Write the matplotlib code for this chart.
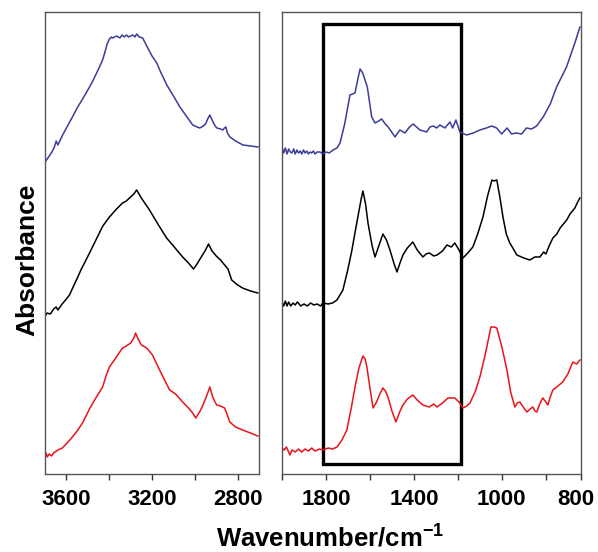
import matplotlib
matplotlib.use("Agg")
import matplotlib.pyplot as plt
import matplotlib.patches as patches
import matplotlib.transforms as mtransforms

plt.rcParams['font.family'] = ['Liberation Sans', 'DejaVu Sans']
plt.rcParams['mathtext.fontset'] = 'custom'
plt.rcParams['mathtext.rm'] = 'Liberation Sans'
plt.rcParams['mathtext.bf'] = 'Liberation Sans:bold'

# high wavenumber region (3700-2700)
wn_hi_blue = [3703, 3690, 3680, 3668, 3656, 3648, 3640, 3620, 3600, 3572, 3550, 3530, 3492, 3470,
              3450, 3431, 3420, 3410, 3399, 3390, 3385, 3375, 3365, 3350, 3340, 3330, 3320,
              3310, 3300, 3290, 3280, 3272, 3260, 3244, 3220, 3200, 3178, 3160, 3131, 3100,
              3070, 3040, 3010, 2990, 2977, 2960, 2950, 2940, 2930, 2915, 2905, 2897,
              2880, 2869, 2862, 2855, 2848, 2836, 2810, 2775, 2740, 2705]
ab_hi_blue = [311, 315, 318, 322, 327, 333, 329, 338, 346, 357, 366, 373, 387, 396,
              405, 414, 422, 430, 435, 437, 436, 437, 438, 436, 439, 437, 439,
              437, 438, 439, 437, 440, 437, 436, 426, 418, 411, 402, 389, 378,
              367, 358, 349, 347, 346, 348, 350, 355, 359, 352, 348, 346,
              345, 344, 346, 347, 341, 337, 333, 329, 328, 327]

wn_hi_black = [3703, 3690, 3675, 3660, 3648, 3640, 3620, 3600, 3586, 3560, 3530, 3492, 3460,
               3430, 3399, 3370, 3338, 3320, 3300, 3285, 3272, 3250, 3212, 3170, 3132, 3100,
               3057, 3030, 3006, 2990, 2970, 2950, 2936, 2920, 2900, 2880, 2861, 2845, 2828,
               2800, 2777, 2740, 2706]
ab_hi_black = [157, 161, 160, 165, 167, 164, 170, 175, 179, 191, 205, 221, 235,
               248, 257, 264, 271, 273, 277, 280, 284, 276, 264, 249, 236, 228,
               217, 211, 205, 210, 217, 224, 230, 223, 218, 214, 209, 205, 194,
               189, 186, 183, 181]

wn_hi_red = [3703, 3695, 3690, 3680, 3670, 3660, 3640, 3619, 3580, 3550, 3525, 3490, 3460, 3431,
             3415, 3399, 3370, 3338, 3320, 3300, 3285, 3277, 3265, 3250, 3225, 3198, 3160,
             3118, 3090, 3057, 3030, 3010, 2996, 2975, 2960, 2945, 2930, 2915, 2898, 2880,
             2861, 2850, 2837, 2810, 2777, 2740, 2706]
ab_hi_red = [16, 21, 17, 20, 18, 21, 24, 26, 35, 43, 51, 66, 77, 87,
             98, 107, 116, 126, 128, 131, 136, 141, 135, 129, 126, 119, 102,
             84, 80, 72, 66, 61, 56, 63, 70, 78, 87, 76, 69, 68,
             66, 60, 52, 47, 44, 41, 38]

# fingerprint region (2000-640)
wn_lo_blue = [2000, 1992, 1985, 1977, 1970, 1962, 1955, 1947, 1940, 1932, 1925, 1917, 1910, 1902,
              1895, 1887, 1880, 1872, 1865, 1857, 1850, 1840, 1827, 1815, 1800, 1785, 1768,
              1750, 1736, 1715, 1691, 1668, 1655, 1645, 1633, 1612, 1592, 1577, 1560, 1547,
              1530, 1517, 1486, 1464, 1441, 1420, 1403, 1373, 1342, 1327, 1312, 1297, 1282,
              1259, 1236, 1224, 1209, 1191, 1161, 1130, 1100, 1070, 1047, 1024, 1001, 976,
              956, 935, 910, 888, 865, 842, 812, 780, 751, 706, 668, 645]
ab_lo_blue = [327, 321, 326, 320, 325, 322, 321, 325, 320, 324, 321, 323, 320, 324,
              321, 323, 320, 322, 321, 323, 320, 322, 322, 320, 322, 321, 324,
              326, 331, 350, 379, 381, 395, 405, 401, 387, 357, 351, 353, 355,
              350, 347, 337, 344, 341, 347, 350, 344, 342, 347, 348, 346, 349,
              346, 352, 346, 354, 342, 339, 341, 344, 346, 348, 346, 340, 346,
              340, 341, 340, 346, 345, 348, 357, 370, 387, 407, 431, 447]

wn_lo_black = [2000, 1992, 1985, 1977, 1970, 1960, 1950, 1940, 1930, 1915, 1900, 1885, 1870,
               1855, 1840, 1825, 1814, 1790, 1770, 1750, 1723, 1700, 1682, 1665, 1655, 1640,
               1632, 1620, 1609, 1590, 1577, 1560, 1541, 1525, 1509, 1490, 1477, 1465, 1450,
               1430, 1405, 1385, 1359, 1345, 1330, 1310, 1295, 1270, 1250, 1230, 1214, 1195,
               1177, 1155, 1132, 1110, 1086, 1065, 1045, 1035, 1023, 1010, 995, 980, 964,
               950, 932, 900, 873, 850, 827, 810, 800, 785, 768, 750, 735, 705, 690, 668,
               655, 645]
ab_lo_black = [172, 168, 173, 168, 172, 168, 171, 169, 172, 168, 170, 168, 171,
               169, 170, 168, 171, 170, 171, 174, 184, 205, 224, 245, 257, 275,
               283, 270, 251, 228, 217, 228, 240, 234, 224, 210, 202, 210, 219,
               226, 232, 224, 217, 220, 221, 218, 219, 223, 229, 227, 231, 224,
               216, 221, 227, 240, 257, 278, 294, 293, 294, 278, 257, 240, 231,
               226, 219, 216, 214, 217, 217, 222, 220, 228, 236, 240, 246, 254, 260, 266,
               272, 276]

wn_lo_red = [2000, 1990, 1980, 1964, 1955, 1940, 1925, 1910, 1895, 1880, 1865, 1850, 1830,
             1814, 1790, 1770, 1750, 1730, 1705, 1685, 1668, 1650, 1632, 1622, 1614, 1600,
             1586, 1570, 1555, 1541, 1530, 1518, 1500, 1482, 1465, 1450, 1430, 1405, 1385,
             1359, 1330, 1310, 1295, 1270, 1245, 1214, 1195, 1177, 1160, 1145, 1120, 1100,
             1075, 1050, 1035, 1023, 1000, 977, 960, 941, 930, 918, 900, 886, 872, 859, 850,
             841, 828, 814, 800, 791, 780, 768, 745, 723, 700, 677, 660, 645]
ab_lo_red = [26, 24, 27, 19, 24, 22, 25, 22, 25, 23, 26, 23, 25,
             24, 26, 25, 27, 33, 44, 66, 87, 106, 118, 115, 107, 86,
             66, 72, 80, 86, 83, 77, 63, 52, 62, 69, 75, 79, 74,
             69, 67, 70, 67, 71, 76, 76, 72, 66, 68, 71, 83, 97,
             120, 147, 147, 146, 127, 104, 82, 67, 71, 72, 66, 62, 65, 67, 63,
             62, 70, 76, 72, 69, 77, 84, 88, 92, 100, 112, 110, 114]

# highlighted band
box_wn = [1814, 1186]

blue = '#3b3c98'
red = '#e8141a'

fig = plt.figure(figsize=(5.98, 5.52), dpi=100)
ax1 = fig.add_axes([0.0753, 0.1413, 0.3579, 0.837])
ax2 = fig.add_axes([0.4716, 0.1413, 0.5, 0.837])

ax1.plot(wn_hi_blue, ab_hi_blue, color=blue, lw=1.1)
ax1.plot(wn_hi_black, ab_hi_black, color='black', lw=1.1)
ax1.plot(wn_hi_red, ab_hi_red, color=red, lw=1.1)
ax2.plot(wn_lo_blue, ab_lo_blue, color=blue, lw=1.1)
ax2.plot(wn_lo_black, ab_lo_black, color='black', lw=1.1)
ax2.plot(wn_lo_red, ab_lo_red, color=red, lw=1.1)

ax1.set_xlim(3700, 2700)
ax2.set_xlim(2000, 640)
for ax in (ax1, ax2):
    ax.set_ylim(0, 462)
    ax.set_yticks([])
    for s in ax.spines.values():
        s.set_color('#555555')
        s.set_linewidth(1.0)
    ax.tick_params(axis='x', direction='out', length=4, width=1, color='#333333',
                   pad=7, labelsize=16)

ax1.set_xticks([3600, 3400, 3200, 3000, 2800])
ax1.set_xticklabels(['3600', '', '3200', '', '2800'])
ax2.set_xticks([2000, 1800, 1600, 1400, 1200, 1000, 800, 640])
ax2.set_xticklabels(['', '1800', '', '1400', '', '1000', '', '800'])
for lab in ax1.get_xticklabels() + ax2.get_xticklabels():
    lab.set_fontweight('bold')
# the edge label sits a little inside the frame
last = ax2.get_xticklabels()[-1]
last.set_transform(last.get_transform() +
                   mtransforms.ScaledTranslation(-4 / 72, 0, fig.dpi_scale_trans))

trans = mtransforms.blended_transform_factory(ax2.transData, ax2.transAxes)
rect = patches.Rectangle((box_wn[0], 0.022), box_wn[1] - box_wn[0], 0.952,
                         transform=trans, fill=False, edgecolor='black', lw=2.4,
                         clip_on=False)
ax2.add_patch(rect)

fig.text(0.552, 0.026, r'Wavenumber/cm$^{\mathbf{-1}}$', ha='center', va='center',
         fontsize=18.5, fontweight='bold')
fig.text(0.045, 0.529, 'Absorbance', ha='center', va='center', rotation=90,
         fontsize=19, fontweight='bold')

fig.savefig('out.png', dpi=100)
